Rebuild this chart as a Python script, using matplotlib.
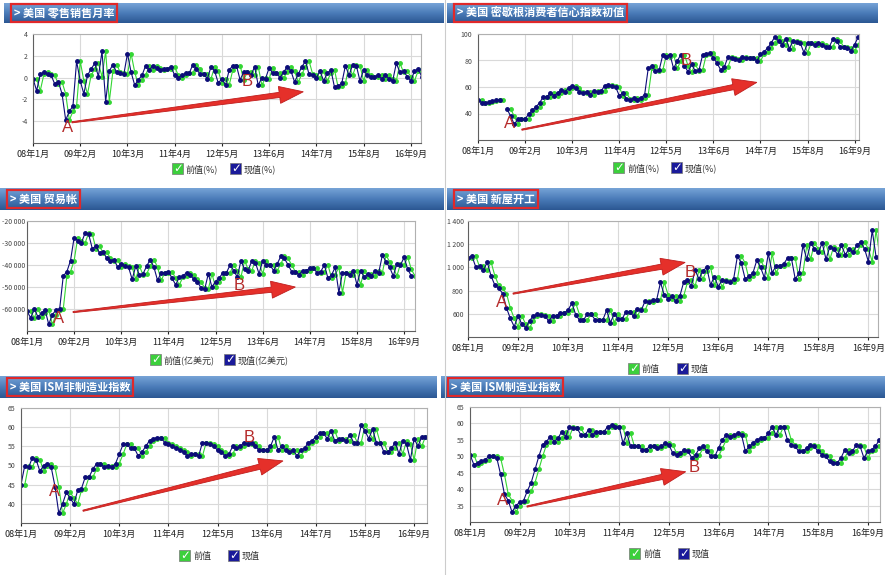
import numpy as np
import matplotlib
matplotlib.use('Agg')
import matplotlib.pyplot as plt
from matplotlib.patches import Rectangle, Polygon
from matplotlib.colors import LinearSegmentedColormap

plt.rcParams['font.family'] = ['Noto Sans CJK SC', 'DejaVu Sans']

W, H = 885, 575
nan = np.nan

# x轴: 月份序号, 0 = 2008年1月
x_ticks = [0, 13, 26, 39, 52, 65, 78, 91, 104]
x_labels = ['08年1月', '09年2月', '10年3月', '11年4月', '12年5月',
            '13年6月', '14年7月', '15年8月', '16年9月']

titles = ['零售销售月率', '密歇根消费者信心指数初值', '贸易帐',
          '新屋开工', 'ISM非制造业指数', 'ISM制造业指数']
units = ['(%)', '(%)', '(亿美元)', '', '', '']

# 现值 (前值 = 上一个月的现值, 画在后一个月)
retail = [-0.1, -1.2, 0.3, 0.5, 0.3, 0.2, -0.6, -0.4, -1.5, -3.9,
          -3.1, -2.6, 1.5, -0.3, -1.5, 0.2, 0.8, 1.3, 0.1, 2.4,
          -2.2, 0.6, 1.2, 0.5, 0.4, 0.3, 2.2, 0.5, -0.7, -0.2,
          0.2, 1.1, 0.7, 1.1, 0.9, 0.7, 0.8, 0.8, 1.0, 0.2,
          0.0, 0.2, 0.4, 0.4, 1.2, 0.8, 0.3, 0.3, -0.1, 1.0,
          0.6, -0.5, -0.1, -0.7, 0.7, 1.1, 1.1, -0.2, 0.5, 0.5,
          0.2, 1.0, -0.7, 0.0, -0.1, 0.9, 0.4, 0.4, 0.0, 0.5,
          1.0, 0.6, -0.4, 0.3, 1.0, 1.5, 0.3, 0.2, 0.0, 0.6,
          -0.3, 0.4, 0.7, -0.9, -0.8, -0.5, 1.1, 0.2, 1.2, 1.1,
          -0.3, 0.7, 0.2, 0.1, 0.1, 0.2, -0.1, 0.2, -0.1, -0.3,
          1.3, 0.5, 0.6, 0.1, -0.3, 0.6, 0.8, 0.1]

sentiment = [50.5, 48, 48, 48.5, 49.5, 50, 50, nan, 43.5, 38,
             32, 35.5, 35.5, 36, 39.5, 42.5, 45, 48, 52.5, 52.5,
             55.5, 53.5, 55.5, 58, 56, 59.5, 60.5, 59.5, 56, 55.5,
             56.5, 54, 57, 56.5, 57, 61, 61.5, 61, 60, 53.5,
             55.5, 51, 50.5, 51.5, 50.5, 52, 54, 74, 76, 72,
             72.5, 84, 83, 84.5, 74, 79.5, 84.5, 76, 71.5, 77,
             72, 72.5, 84, 85, 85.5, 82, 78, 73, 75, 82.5,
             82, 81.5, 80.5, 82.5, 82, 82, 82, 79.5, 85, 86.5,
             89.5, 93.5, 98, 94.5, 92, 96.5, 89, 95, 94, 93,
             86, 93, 93, 92, 93.5, 91.5, 90.5, 90.5, 96, 95,
             90, 90.5, 89.5, 87.5, 92, 98]

trade = [-61000, -64000, -60000, -63500, -62000, -60500, -67000, -62500, -60500, -60000,
         -45000, -43000, -38000, -27500, -29000, -30000, -25500, -26000, -32500, -31500,
         -34500, -34000, -37000, -38000, -37500, -41000, -39500, -40500, -41000, -46500,
         -40500, -44500, -44000, -40500, -37500, -41000, -47000, -43500, -43500, -43000,
         -46000, -49000, -45500, -45000, -43500, -44500, -46500, -47500, -50500, -51000,
         -44000, -50000, -47500, -46000, -43500, -43500, -40000, -42500, -45500, -38000,
         -42000, -42500, -38000, -39000, -44000, -38000, -40000, -40000, -42500, -39500,
         -36000, -37000, -40000, -43000, -43000, -44500, -42500, -42500, -41500, -41500,
         -43500, -43000, -40000, -46000, -44500, -41000, -52500, -43500, -43500, -44500,
         -42500, -49000, -42500, -45500, -44000, -45000, -42500, -43500, -35500, -38500,
         -41000, -45000, -39500, -40000, -36500, -42000, -45000]

starts = [1080, 1100, 1005, 1010, 975, 1045, 925, 845, 820, 775,
          650, 560, 490, 580, 510, 480, 540, 585, 595, 590,
          585, 535, 585, 580, 610, 605, 635, 690, 590, 545,
          545, 600, 595, 550, 550, 545, 630, 525, 600, 555,
          555, 615, 615, 580, 645, 630, 710, 700, 720, 720,
          870, 760, 730, 750, 710, 750, 870, 890, 840, 975,
          900, 970, 1000, 850, 920, 835, 890, 880, 870, 900,
          1100, 1035, 900, 925, 950, 1060, 1000, 910, 1120, 955,
          1010, 1010, 1030, 1080, 1080, 900, 950, 1190, 1070, 1210,
          1160, 1130, 1210, 1070, 1180, 1160, 1110, 1190, 1110, 1160,
          1130, 1190, 1220, 1160, 1050, 1320, 1090]

ism_non = [45, 50, 49.5, 52, 51.5, 48.5, 50, 50.5, 49.5, 44.5,
           37.5, 40, 43, 41.5, 40, 43.5, 44, 47, 47, 49,
           50.5, 50.5, 49.5, 50, 49.5, 50.5, 53, 55.5, 55.5, 54.5,
           54.5, 52.5, 53.5, 55, 56.5, 57, 57.3, 57.3, 56, 55.5,
           55, 54.5, 54, 53.5, 52.5, 53, 53, 52.5, 56, 56,
           55.5, 55, 54, 53.5, 52.5, 53, 55, 54.5, 55, 56,
           55.5, 56, 55, 54, 54, 54, 55, 57.5, 54, 55,
           54, 53.5, 54, 52.5, 54, 54.5, 56, 56.5, 57.5, 58.5,
           58.5, 57, 59, 56.5, 57, 57, 56.5, 58, 56, 56,
           60.5, 59, 57, 59.5, 56, 56, 53.5, 53.5, 54.5, 56,
           53, 56.5, 55.5, 51.5, 57, 55, 57.5, 57.5]

ism_mfg = [50.5, 47.5, 48, 48.5, 49, 50, 50, 49.5, 44.5, 38.5,
           36.5, 33, 35, 36, 36.5, 39.5, 42, 46, 50, 53.5,
           54.5, 56, 54.5, 55.5, 57.5, 56, 59, 58.5, 58.5, 56.5,
           56.5, 58, 56.5, 57.5, 57.5, 57.5, 59, 59.5, 59, 59,
           54, 57, 53, 53, 53, 52, 52, 53, 53, 52.5,
           53, 54, 53.5, 51, 50.5, 51, 52, 51.5, 49.5, 50.5,
           52.5, 53, 51.5, 50, 50, 52.5, 55, 56.5, 56, 56.5,
           57, 56.5, 51.5, 53, 54, 55, 55.5, 55.5, 57, 59,
           56.5, 59, 59, 55, 53.5, 53, 51.5, 51.5, 52.5, 53.5,
           53, 51.5, 50.5, 50, 48.5, 48, 48, 49.5, 52, 51,
           51.5, 53.5, 53, 49.5, 51.5, 52, 53, 55]

series = [retail, sentiment, trade, starts, ism_non, ism_mfg]

# 版面 (像素): 标题栏, 绘图区, 图例位置, 坐标轴范围, A/B 与箭头位置
panels = [
    dict(hdr=(4, 3, 444, 23), box=(33, 34, 421, 143), leg=(172, 163), xmax=106.8,
         ylim=(-6, 4), yt=[-4, -2, 0, 2, 4], ypad=4, A=(9.6, -4.6), B=(59, -0.4),
         arr=((10.7, -4.1), (74.4, -1.3))),
    dict(hdr=(447, 3, 878, 23), box=(478, 34, 859, 140), leg=(613, 162), xmax=105.2,
         ylim=(20, 100), yt=[40, 60, 80, 100], ypad=4, A=(8.8, 32.4), B=(57.4, 80),
         arr=((12.1, 27.8), (77, 63.5))),
    dict(hdr=(0, 188, 444, 210), box=(27, 221, 415, 331), leg=(150, 354), xmax=107,
         ylim=(-70000, -20000), yt=[-60000, -50000, -40000, -30000, -20000], ypad=1.5,
         A=(8.8, -64100), B=(58.5, -49100), arr=((12.7, -61400), (74, -50000))),
    dict(hdr=(447, 188, 885, 210), box=(468, 221, 878, 337), leg=(628, 363), xmax=106.5,
         ylim=(400, 1400), yt=[600, 800, 1000, 1200, 1400], ypad=3, A=(8.8, 695), B=(57.7, 956),
         arr=((11.7, 774), (56.4, 1043))),
    dict(hdr=(0, 376, 437, 398), box=(21, 408, 427, 523), leg=(179, 550), xmax=107.4,
         ylim=(35, 65), yt=[40, 45, 50, 55, 60, 65], ypad=4, A=(9, 43.1), B=(60.3, 57.2),
         arr=((16.4, 38.2), (69.3, 51.2))),
    dict(hdr=(441, 376, 885, 398), box=(470, 407, 880, 522), leg=(629, 548), xmax=107.2,
         ylim=(30, 65), yt=[35, 40, 45, 50, 55, 60, 65], ypad=4, A=(8.6, 36.5), B=(58.7, 46.5),
         arr=((14.9, 34.7), (56.4, 45.3))),
]

GREEN = '#33d633'
BLUE = '#0c0c78'
hcmap = LinearSegmentedColormap.from_list('hdr', ['#76a3d6', '#4a7bb8', '#2c5893'])
grad = np.linspace(0, 1, 40).reshape(-1, 1)

fig = plt.figure(figsize=(W / 100, H / 100), dpi=100)
fig.patch.set_facecolor('white')


def rect(x0, y0, x1, y1):
    return [x0 / W, 1 - y1 / H, (x1 - x0) / W, (y1 - y0) / H]


def fx(px):
    return px / W


def fy(py):
    return 1 - py / H


def checkbox(x, y, color):
    fig.patches.append(Rectangle((fx(x), fy(y + 11)), 11 / W, 11 / H, transform=fig.transFigure,
                                 facecolor=color, edgecolor='#777777', lw=0.5))
    fig.text(fx(x + 5.8), fy(y + 5.2), '✓', color='white', fontsize=8.5, fontweight='bold',
             ha='center', va='center', family='DejaVu Sans')


def red_arrow(ax, p0, p1):
    s = ax.transData.transform(p0)
    t = ax.transData.transform(p1)
    d = t - s
    u = d / np.hypot(*d)
    n = np.array([-u[1], u[0]])
    L, hw, w0, w1 = 24, 8.5, 0.6, 2.6
    b = t - L * u
    pts = [s + n * w0, b + n * w1, b + n * hw, t, b - n * hw, b - n * w1, s - n * w0]
    pts = fig.transFigure.inverted().transform(pts)
    fig.patches.append(Polygon(pts, closed=True, transform=fig.transFigure,
                               facecolor='#e5302a', edgecolor='#c01d1d', lw=0.6, zorder=5))


for k, p in enumerate(panels):
    cur = series[k]
    m = np.arange(len(cur))

    # 标题栏
    hax = fig.add_axes(rect(*p['hdr']))
    hax.imshow(grad, aspect='auto', cmap=hcmap, extent=[0, 1, 0, 1])
    hax.axis('off')
    hx0, hy0, hx1, hy1 = p['hdr']
    fig.text(fx(hx0 + 10), fy((hy0 + hy1) / 2), '> 美国 ' + titles[k], color='white',
             fontsize=8, fontweight='bold', ha='left', va='center',
             bbox=dict(boxstyle='square,pad=0.25', fc='none', ec='#e0282a', lw=1.6))

    # 曲线: 绿 = 前值, 蓝 = 现值
    ax = fig.add_axes(rect(*p['box']))
    ax.plot(m + 1, cur, color=GREEN, lw=0.8, marker='o', ms=2.5, mec=GREEN, mfc=GREEN)
    ax.plot(m, cur, color=BLUE, lw=0.8, marker='o', ms=2.5, mec=BLUE, mfc=BLUE)
    ax.set_xlim(0, p['xmax'])
    ax.set_ylim(*p['ylim'])
    ax.set_xticks(x_ticks)
    ax.set_xticklabels(x_labels)
    ax.set_yticks(p['yt'])
    ax.set_yticklabels([f'{v:,}'.replace(',', ' ') for v in p['yt']])
    ax.grid(True, color='#d9d9d9', lw=0.8)
    ax.set_axisbelow(True)
    ax.tick_params(axis='x', labelsize=6.5, length=2, pad=3, colors='#222222')
    ax.tick_params(axis='y', labelsize=5, length=0, pad=p['ypad'], colors='#444444')
    for side in ['top', 'right']:
        ax.spines[side].set_color('#b0b0b0')
    for side in ['left', 'bottom']:
        ax.spines[side].set_color('#606060')

    # A / B 与红箭头
    ax.text(*p['A'], 'A', color='#b52a2a', fontsize=12, ha='center', va='center',
            family='Liberation Sans', zorder=6)
    ax.text(*p['B'], 'B', color='#b52a2a', fontsize=12, ha='center', va='center',
            family='Liberation Sans', zorder=6)
    red_arrow(ax, *p['arr'])

    # 图例
    lx, ly = p['leg']
    checkbox(lx, ly, '#3ccf3c')
    fig.text(fx(lx + 14), fy(ly + 6), '前值' + units[k], fontsize=6.5, color='#333333',
             ha='left', va='center')
    bx = lx + 58 if units[k] == '(%)' else (lx + 74 if units[k] else lx + 49)
    checkbox(bx, ly, '#1a1a9a')
    fig.text(fx(bx + 14), fy(ly + 6), '现值' + units[k], fontsize=6.5, color='#333333',
             ha='left', va='center')

# 分隔线
fig.add_artist(plt.Line2D([fx(445), fx(445)], [0, 1], transform=fig.transFigure,
                          color='#cccccc', lw=0.8))

fig.savefig('out.png', dpi=100)
